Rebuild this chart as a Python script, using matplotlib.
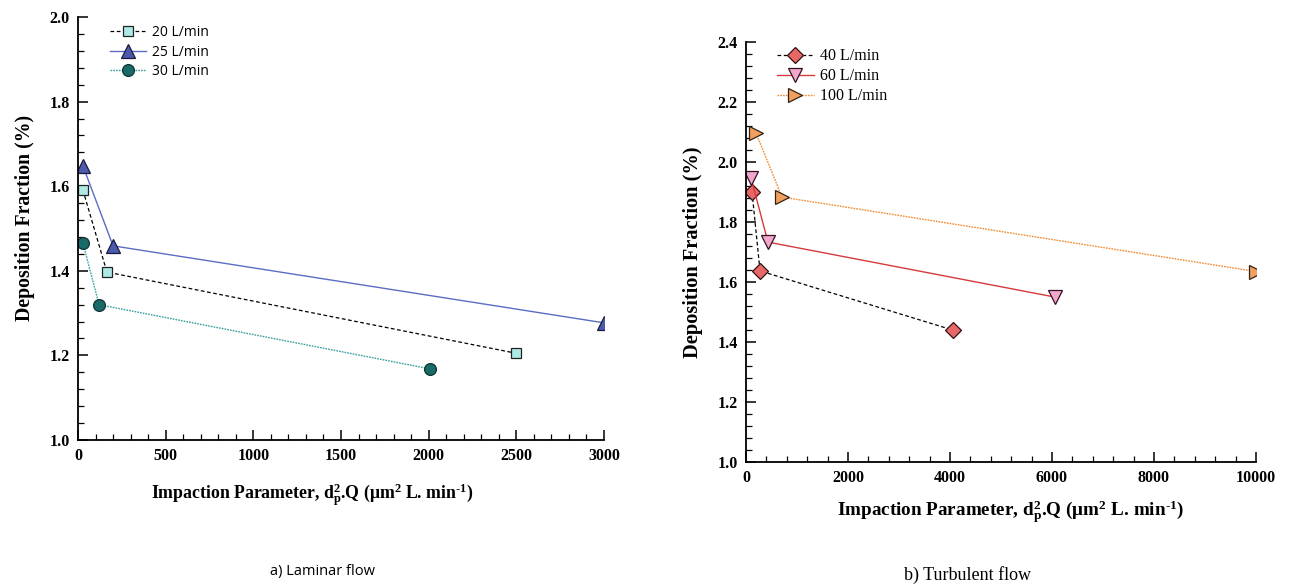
import matplotlib
matplotlib.use("Agg")
import matplotlib.pyplot as plt
from matplotlib.ticker import MultipleLocator, FormatStrFormatter

plt.rcParams['mathtext.fontset'] = 'custom'
plt.rcParams['mathtext.rm'] = 'Liberation Serif:bold'
plt.rcParams['mathtext.it'] = 'Liberation Serif:bold'
plt.rcParams['mathtext.bf'] = 'Liberation Serif:bold'
plt.rcParams['mathtext.default'] = 'rm'

# ---- data: laminar ----
lam_labels = ["20 L/min", "25 L/min", "30 L/min"]
lam_x20 = [28, 165, 2500]
lam_y20 = [1.591, 1.397, 1.205]
lam_x25 = [28, 200, 3000]
lam_y25 = [1.648, 1.459, 1.277]
lam_x30 = [28, 120, 2010]
lam_y30 = [1.466, 1.320, 1.168]

# ---- data: turbulent ----
tur_labels = ["40 L/min", "60 L/min", "100 L/min"]
tur_x40 = [118, 275, 4050]
tur_y40 = [1.900, 1.637, 1.440]
tur_x60 = [98, 431, 6050]
tur_y60 = [1.947, 1.733, 1.550]
tur_x100 = [196, 706, 10000]
tur_y100 = [2.097, 1.883, 1.635]

fig = plt.figure(figsize=(12.97, 5.87), dpi=100)
W, H = 1297, 587
axL = fig.add_axes([78 / W, 1 - 440 / H, (604 - 78) / W, (440 - 17) / H])
axR = fig.add_axes([746 / W, 1 - 462 / H, (1256 - 746) / W, (462 - 42) / H])

serif_b = dict(family='Liberation Serif', weight='bold')
XLAB = r'Impaction Parameter, d$_p^2$.Q ($\mathrm{\mu}$m$^2$ L. min$^{\text{-}1}$)'

def style(ax, xmax, xmaj, xmin, ymin, ymax, ylsize):
    ax.set_xlim(0, xmax)
    ax.set_ylim(ymin, ymax)
    ax.spines['top'].set_visible(False)
    ax.spines['right'].set_visible(False)
    ax.spines['left'].set_linewidth(1.3)
    ax.spines['bottom'].set_linewidth(1.3)
    ax.xaxis.set_major_locator(MultipleLocator(xmaj))
    ax.xaxis.set_minor_locator(MultipleLocator(xmin))
    ax.yaxis.set_major_locator(MultipleLocator(0.2))
    ax.yaxis.set_minor_locator(MultipleLocator(0.04))
    ax.yaxis.set_major_formatter(FormatStrFormatter('%.1f'))
    ax.tick_params(which='major', direction='in', length=7, width=1.1, labelsize=11.5, pad=6)
    ax.tick_params(which='minor', direction='in', length=4, width=0.9)
    for lab in ax.get_xticklabels() + ax.get_yticklabels():
        lab.set_fontfamily('Liberation Serif')
        lab.set_fontweight('bold')
    ax.set_ylabel('Deposition Fraction (%)', fontsize=ylsize, **serif_b)

# Left
axL.plot(lam_x20, lam_y20, ls=(0, (3, 2)), color='black', lw=0.9, marker='s', ms=7,
         mfc='#aee9e6', mec='#222222', mew=0.9, label=lam_labels[0])
axL.plot(lam_x25, lam_y25, ls='-', color='#5b6cc4', lw=1.0, marker='^', ms=9.5,
         mfc='#4b5aab', mec='#1a1a40', mew=0.9, label=lam_labels[1])
axL.plot(lam_x30, lam_y30, ls=(0, (1.2, 0.8)), color='#3a9e9e', lw=1.0, marker='o', ms=8.5,
         mfc='#1a6b68', mec='#0e3333', mew=0.9, label=lam_labels[2])
style(axL, 3000, 500, 100, 1.0, 2.0, 14.2)
axL.set_xlabel(XLAB, fontsize=12.8, **serif_b)
axL.xaxis.set_label_coords((312 - 78) / 526, -(482 - 440) / 423)
axL.yaxis.set_label_coords(-0.081, 0.525)
axL.legend(loc='upper left', bbox_to_anchor=(0.045, 1.0), frameon=False,
           prop={'family': 'Open Sans', 'size': 10}, handlelength=2.6,
           handletextpad=0.4, labelspacing=0.3, borderaxespad=0.2)

# Right
axR.plot(tur_x40, tur_y40, ls=(0, (3, 2)), color='black', lw=0.9, marker='D', ms=8,
         mfc='#e86868', mec='#331111', mew=0.9, label=tur_labels[0])
axR.plot(tur_x60, tur_y60, ls='-', color='#d63a3a', lw=1.0, marker='v', ms=10,
         mfc='#f2a8cc', mec='#331122', mew=0.9, label=tur_labels[1])
axR.plot(tur_x100, tur_y100, ls=(0, (1.2, 0.8)), color='#f08a30', lw=1.0, marker='>', ms=10,
         mfc='#f2a060', mec='#332211', mew=0.9, label=tur_labels[2])
style(axR, 10000, 2000, 400, 1.0, 2.4, 14.7)
axR.set_xlabel(XLAB, fontsize=13.8, **serif_b)
axR.xaxis.set_label_coords((1011 - 746) / 510, -(499 - 462) / 420)
axR.yaxis.set_label_coords(-0.085, 0.5)
axR.legend(loc='upper left', bbox_to_anchor=(0.042, 1.008), frameon=False,
           prop={'family': 'Liberation Serif', 'size': 11.5}, handlelength=2.3,
           handletextpad=0.4, labelspacing=0.25, borderaxespad=0.2)

fig.text(323 / W, 1 - 571 / H, 'a) Laminar flow', ha='center', va='center',
         family='Open Sans', fontsize=10.5)
fig.text(967 / W, 1 - 575 / H, 'b) Turbulent flow', ha='center', va='center',
         family='Liberation Serif', fontsize=13)

fig.savefig('out.png', dpi=100)
